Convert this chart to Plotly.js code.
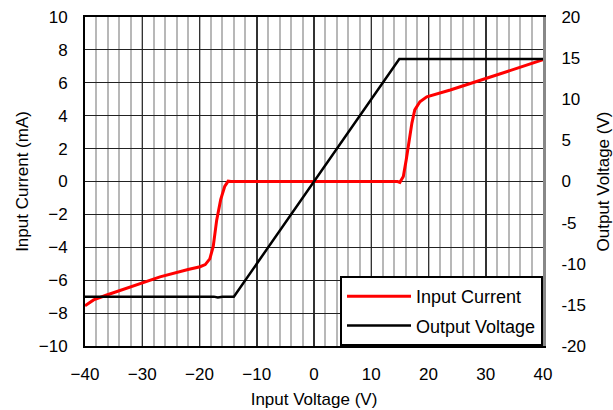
<!DOCTYPE html>
<html>
<head>
<meta charset="utf-8">
<script src="https://cdn.plot.ly/plotly-3.0.1.min.js"></script>
<style>html,body{margin:0;padding:0;background:#fff}#chart{width:613px;height:410px}</style>
</head>
<body>
<div id="chart"></div>
<script>
// Input Current (mA) vs Input Voltage (V)
const currentX = [-40, -38.5, -36.2, -32, -29.8, -26.9, -22, -19.9, -19.0, -18.2, -17.6, -17.0, -16.3, -15.6, -15.0, -14.5, -5, 5, 14.6, 15.0, 15.6, 16.1, 16.5, 17.1, 17.6, 18.5, 19.7, 23.8, 30, 35, 40];
const currentY = [-7.55, -7.2, -6.9, -6.4, -6.17, -5.8, -5.35, -5.18, -5.05, -4.7, -3.95, -2.35, -1.1, -0.3, 0.02, 0, 0, 0, 0, -0.05, 0.3, 1.3, 2.3, 3.55, 4.35, 4.85, 5.15, 5.56, 6.26, 6.83, 7.4];
// Output Voltage (V) vs Input Voltage (V)
const voltageX = [-40, -20, -17.5, -16.8, -16, -14, 14.9, 40];
const voltageY = [-14, -14, -14, -14.1, -14, -14, 14.9, 14.9];
// Axis ticks
const xTicks = [-40, -30, -20, -10, 0, 10, 20, 30, 40];
const leftTicks = [-10, -8, -6, -4, -2, 0, 2, 4, 6, 8, 10];
const rightTicks = [-20, -15, -10, -5, 0, 5, 10, 15, 20];
const rightTickText = ['-20', '-15', '-10', '-5', '0', '5', '10', '15', '20'];

const FONT = '"Liberation Sans", Arial, sans-serif';

const traces = [
  {x: currentX, y: currentY, name: 'Input Current', type: 'scatter', mode: 'lines',
   line: {color: '#ff0000', width: 3}, yaxis: 'y', legendgroup: 'a'},
  {x: voltageX, y: voltageY, name: 'Output Voltage', type: 'scatter', mode: 'lines',
   line: {color: '#000000', width: 2.5}, yaxis: 'y2', legendgroup: 'b'}
];

const layout = {
  width: 613, height: 410,
  margin: {l: 85, r: 70, t: 17, b: 64, pad: 0},
  paper_bgcolor: '#ffffff', plot_bgcolor: '#ffffff',
  font: {family: FONT, size: 17, color: '#000'},
  showlegend: true,
  legend: {x: 1, xanchor: 'right', y: 0, yanchor: 'bottom', bgcolor: '#ffffff',
           bordercolor: '#000', borderwidth: 2, font: {family: FONT, size: 18, color: '#000'},
           tracegroupgap: 3, itemwidth: 64},
  xaxis: {
    range: [-40, 40], tickvals: xTicks, showgrid: true, gridcolor: '#333', gridwidth: 1.5,
    minor: {dtick: 2, showgrid: true, gridcolor: '#b8b8b8', gridwidth: 2},
    zeroline: false, showline: true, linecolor: '#000', linewidth: 2, mirror: true,
    ticks: 'outside', ticklen: 12, tickcolor: 'rgba(0,0,0,0)',
    tickfont: {family: FONT, size: 17},
    title: {text: 'Input Voltage (V)', font: {family: FONT, size: 17}, standoff: 10}
  },
  yaxis: {
    range: [-10, 10], tickvals: leftTicks, showgrid: true, gridcolor: '#222', gridwidth: 1,
    zeroline: false, showline: true, linecolor: '#000', linewidth: 2,
    ticks: 'outside', ticklen: 12, tickcolor: 'rgba(0,0,0,0)',
    tickfont: {family: FONT, size: 17},
    title: {text: 'Input Current (mA)', font: {family: FONT, size: 17}, standoff: 6}
  },
  yaxis2: {
    range: [-20, 20], tickvals: rightTicks, ticktext: rightTickText, overlaying: 'y', side: 'right',
    showgrid: false, zeroline: false, showline: true, linecolor: '#888', linewidth: 3,
    ticks: 'outside', ticklen: 12, tickcolor: 'rgba(0,0,0,0)',
    tickfont: {family: FONT, size: 17},
    title: {text: 'Output Voltage (V)', font: {family: FONT, size: 17}, standoff: 15}
  }
};

Plotly.newPlot('chart', traces, layout, {displayModeBar: false, staticPlot: true});
</script>
</body>
</html>
